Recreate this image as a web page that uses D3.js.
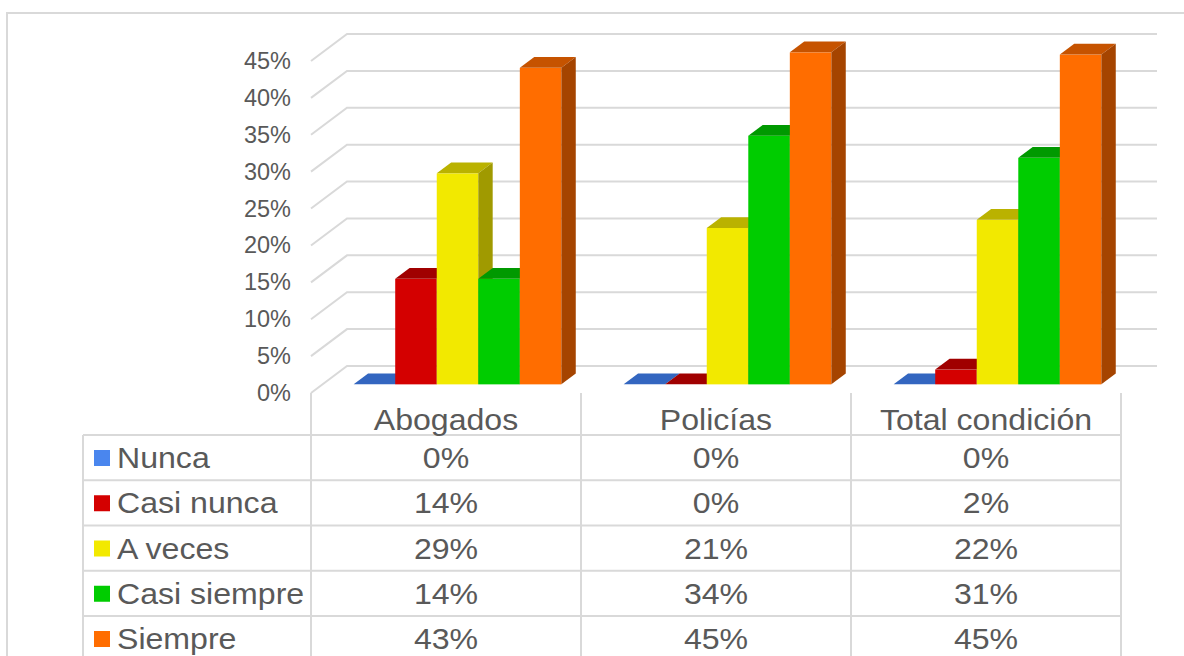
<!DOCTYPE html>
<html>
<head>
<meta charset="utf-8">
<script src="https://cdn.jsdelivr.net/npm/d3@7"></script>
<style>
  body { margin: 0; background: #fff; }
  text { font-family: "Liberation Sans", Arial, sans-serif; fill: #595959; }
</style>
</head>
<body>
<div class="chart"></div>
<script>
// data
const categories = ["Abogados", "Policías", "Total condición"]
const seriesNames = ["Nunca", "Casi nunca", "A veces", "Casi siempre", "Siempre"]
const nunca = [0, 0, 0]
const casiNunca = [14.3, 0, 2.0]
const aVeces = [28.6, 21.2, 22.3]
const casiSiempre = [14.3, 33.7, 30.7]
const siempre = [42.9, 45.0, 44.7]
const yTicks = [0, 5, 10, 15, 20, 25, 30, 35, 40, 45]

const seriesValues = [nunca, casiNunca, aVeces, casiSiempre, siempre]
const frontColors = ["#4a86ee", "#d40000", "#f2e900", "#00cc00", "#ff6d00"]
const topColors = ["#3366c0", "#a00000", "#bab200", "#009900", "#c65300"]
const sideColors = ["#2d57a4", "#8a0000", "#a09a00", "#008000", "#a54400"]

let width = 1184
let height = 656

let svg = d3.select(".chart")
    .append("svg")
    .attr("width", width)
    .attr("height", height)

// outer chart border
svg.append("path")
    .attr("d", "M7,656 V13 H1184")
    .attr("fill", "none")
    .attr("stroke", "#d9d9d9")
    .attr("stroke-width", 2)

// Scales
let xScale = d3.scaleBand()
    .domain(categories)
    .range([311, 1121])

let innerScale = d3.scaleBand()
    .domain(seriesNames)
    .range([0, xScale.bandwidth()])
    .paddingInner(0)
    .paddingOuter(0.75)

let yScale = d3.scaleLinear()
    .domain([0, 45])
    .range([393, 61])

// depth of the 3D box
let depth = {x: 36, y: -27}
let barFront = 0.32
let barDepth = 0.4

// gridlines: side wall diagonals + back wall lines
let grid = svg.append("g").attr("class", "grid")
grid.selectAll("path")
    .data(yTicks)
    .enter()
    .append("path")
    .attr("d", d => {
        let y = yScale(d)
        let x0 = xScale.range()[0]
        let x1 = xScale.range()[1]
        return `M${x0},${y} L${x0 + depth.x},${y + depth.y} L${x1 + depth.x},${y + depth.y}`
    })
    .attr("fill", "none")
    .attr("stroke", "#d9d9d9")
    .attr("stroke-width", 2)

// y axis labels
const yAxis = d3.axisLeft(yScale)
    .tickValues(yTicks)
    .tickSize(0)
    .tickPadding(20)
    .tickFormat(d => d + "%")

svg.append("g")
    .attr("class", "axis y-axis")
    .attr("transform", `translate(${xScale.range()[0]}, 0)`)
    .call(yAxis)
    .call(g => g.select(".domain").remove())
    .selectAll("text")
    .style("font-family", "'Liberation Sans', Arial, sans-serif")
    .style("font-size", "23.5px")
    .attr("fill", "#595959")

// Bars (drawn left to right so later fronts cover earlier sides)
let bars = []
categories.forEach((c, ci) => {
    seriesNames.forEach((s, si) => {
        bars.push({cat: c, series: s, si: si, value: seriesValues[si][ci]})
    })
})

let fx = depth.x * barFront, fy = depth.y * barFront
let dx = depth.x * barDepth, dy = depth.y * barDepth

let barG = svg.append("g").attr("class", "bars")
bars.forEach(d => {
    let x0 = xScale(d.cat) + innerScale(d.series) + fx
    let x1 = x0 + innerScale.bandwidth()
    let yT = yScale(d.value) + fy
    let yB = yScale(0) + fy
    let g = barG.append("g")
    g.append("rect")
        .attr("x", x0)
        .attr("y", yT)
        .attr("width", x1 - x0)
        .attr("height", yB - yT)
        .attr("fill", frontColors[d.si])
    g.append("path")
        .attr("d", `M${x0},${yT} L${x1},${yT} L${x1 + dx},${yT + dy} L${x0 + dx},${yT + dy} Z`)
        .attr("fill", topColors[d.si])
    g.append("path")
        .attr("d", `M${x1},${yT} L${x1 + dx},${yT + dy} L${x1 + dx},${yB + dy} L${x1},${yB} Z`)
        .attr("fill", sideColors[d.si])
})

// Data table
let tableLeft = 83
let headerTop = 393
let rowTop = 435
let rowH = 45.25
let tableRight = xScale.range()[1]
let stretch = 1.07

let table = svg.append("g").attr("class", "table")

table.selectAll("line.h")
    .data(d3.range(seriesNames.length + 1))
    .enter()
    .append("line")
    .attr("x1", tableLeft)
    .attr("x2", tableRight)
    .attr("y1", i => rowTop + i * rowH)
    .attr("y2", i => rowTop + i * rowH)
    .attr("stroke", "#d9d9d9")
    .attr("stroke-width", 2)

table.append("line")
    .attr("x1", tableLeft).attr("x2", tableLeft)
    .attr("y1", rowTop).attr("y2", height)
    .attr("stroke", "#d9d9d9")
    .attr("stroke-width", 2)

table.selectAll("line.v")
    .data(categories.map(c => xScale(c)).concat([tableRight]))
    .enter()
    .append("line")
    .attr("x1", d => d).attr("x2", d => d)
    .attr("y1", headerTop).attr("y2", height)
    .attr("stroke", "#d9d9d9")
    .attr("stroke-width", 2)

// header
table.selectAll("text.cat")
    .data(categories)
    .enter()
    .append("text")
    .attr("transform", d => `translate(${xScale(d) + xScale.bandwidth() / 2},${rowTop - 5}) scale(${stretch},1)`)
    .attr("text-anchor", "middle")
    .style("font-size", "30px")
    .text(d => d)

// legend keys and names
seriesNames.forEach((s, si) => {
    let top = rowTop + si * rowH
    table.append("rect")
        .attr("x", 94)
        .attr("y", top + 15)
        .attr("width", 16)
        .attr("height", 16)
        .attr("fill", frontColors[si])
    table.append("text")
        .attr("transform", `translate(117,${top + 33}) scale(${stretch},1)`)
        .style("font-size", "30px")
        .text(s)
    categories.forEach((c, ci) => {
        table.append("text")
            .attr("transform", `translate(${xScale(c) + xScale.bandwidth() / 2},${top + 33}) scale(${stretch},1)`)
            .attr("text-anchor", "middle")
            .style("font-size", "30px")
            .text(d3.format(".0f")(seriesValues[si][ci]) + "%")
    })
})
</script>
</body>
</html>
